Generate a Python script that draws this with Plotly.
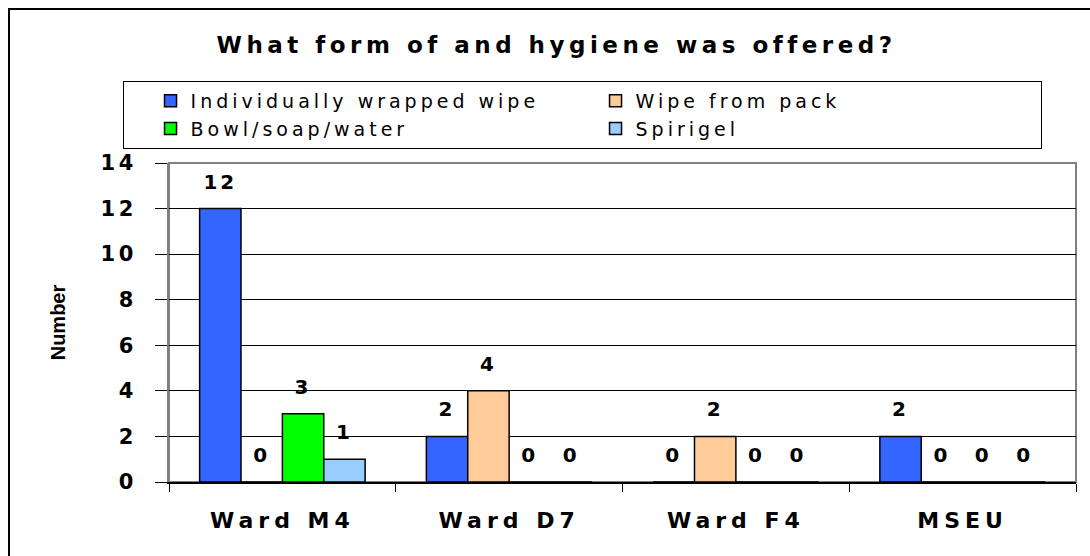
import plotly.graph_objects as go

# ---- data ----
categories = ["Ward M4", "Ward D7", "Ward F4", "MSEU"]
series_names = ["Individually wrapped wipe", "Wipe from pack", "Bowl/soap/water", "Spirigel"]
individually_wrapped = [12, 2, 0, 2]
wipe_from_pack = [0, 4, 2, 0]
bowl_soap_water = [3, 0, 0, 0]
spirigel = [1, 0, 0, 0]
series_values = [individually_wrapped, wipe_from_pack, bowl_soap_water, spirigel]
y_ticks = [0, 2, 4, 6, 8, 10, 12, 14]
chart_title = "What form of and hygiene was offered?"
y_title = "Number"

# ---- style ----
colors = ["#3366FF", "#FFCC99", "#00FF00", "#99CCFF"]
FONT = "DejaVu Sans"
LABEL_OFFSET = 1.1
GAP = 0.27


def wide(s, sp):
    return f"<span style='letter-spacing:{sp}px'>{s}</span>"


fig = go.Figure()

for name, vals, col in zip(series_names, series_values, colors):
    fig.add_trace(go.Bar(
        x=categories, y=vals, name=wide(name, 4),
        marker=dict(color=col, line=dict(color="black", width=1.5)),
        hoverinfo="skip",
    ))

for vals in series_values:
    fig.add_trace(go.Scatter(
        x=categories, y=[v + LABEL_OFFSET for v in vals], mode="text",
        text=[wide(str(v), 3) for v in vals],
        textposition="middle center",
        textfont=dict(family=FONT, size=20, color="black", weight="bold"),
        showlegend=False, hoverinfo="skip",
    ))

L, R, T, B = 169, 14, 163, 74
W, H = 1090, 556
pw, ph = W - L - R, H - T - B

fig.update_layout(
    width=W, height=H,
    margin=dict(l=L, r=R, t=T, b=B, autoexpand=False),
    paper_bgcolor="white", plot_bgcolor="white",
    barmode="group", bargap=GAP, bargroupgap=0,
    scattermode="group", scattergap=GAP,
    title=dict(text=wide(chart_title, 4.5), x=0.5106, xanchor="center",
               y=1 - 45 / H, yanchor="middle",
               font=dict(family=FONT, size=23, color="black", weight="bold")),
    legend=dict(orientation="h", x=(123 - L) / pw, xanchor="left",
                y=1 + (T - 81) / ph, yanchor="top",
                bordercolor="black", borderwidth=1, bgcolor="white",
                font=dict(family=FONT, size=19, color="black"),
                title=dict(text="xl", side="left",
                           font=dict(family=FONT, size=19, color="rgba(0,0,0,0)")),
                entrywidth=400, entrywidthmode="pixels", traceorder="normal"),
    xaxis=dict(type="category", tickvals=categories,
               ticktext=[wide(c, 5) for c in categories],
               tickson="boundaries", ticks="outside", ticklen=8,
               tickcolor="black", tickwidth=1,
               showline=True, linecolor="black", linewidth=1.5,
               showgrid=False, ticklabelstandoff=18,
               tickfont=dict(family=FONT, size=22, color="black", weight="bold")),
    yaxis=dict(range=[0, 14], tickvals=y_ticks,
               ticktext=[wide(str(t), 3.5) for t in y_ticks],
               ticks="outside", ticklen=12, tickcolor="black", tickwidth=1,
               showline=True, linecolor="#808080", linewidth=2,
               showgrid=True, gridcolor="black", gridwidth=1, zeroline=False,
               ticklabelstandoff=14,
               tickfont=dict(family=FONT, size=21, color="black", weight="bold")),
    shapes=[
        dict(type="rect", xref="paper", yref="paper", x0=0, x1=1, y0=0, y1=1,
             line=dict(color="#808080", width=2), layer="below"),
        dict(type="rect", xref="paper", yref="paper",
             x0=(9 - L) / pw, x1=(W + 10 - L) / pw,
             y0=(T + ph - (H + 10)) / ph, y1=1 + (T - 9) / ph,
             line=dict(color="black", width=2), layer="below"),
    ],
)
fig.update_yaxes(title=dict(text=y_title, standoff=30,
                            font=dict(family="Liberation Sans", size=20,
                                      color="black", weight="bold")))

fig.write_html("out.html", config={"displayModeBar": False},
               post_script="document.body.style.margin='0px';")
